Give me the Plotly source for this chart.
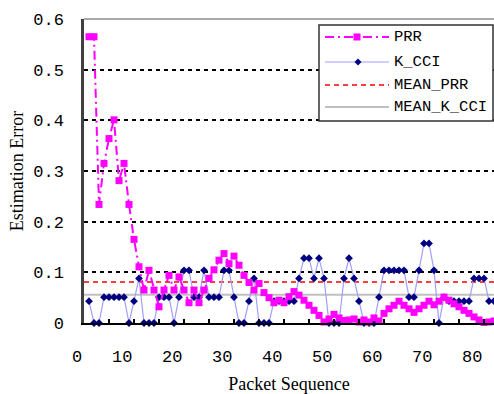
import plotly.graph_objects as go

# ---------------- data ----------------
seq = list(range(1, 83))

prr = [0.565, 0.565, 0.234, 0.315, 0.364, 0.401, 0.281, 0.315, 0.234, 0.165,
       0.111, 0.065, 0.104, 0.065, 0.032, 0.065, 0.094, 0.065, 0.091, 0.065,
       0.040, 0.065, 0.040, 0.065, 0.088, 0.105, 0.124, 0.137, 0.117, 0.132,
       0.114, 0.094, 0.080, 0.065, 0.078, 0.060, 0.050, 0.040, 0.045, 0.040,
       0.052, 0.062, 0.055, 0.045, 0.035, 0.025, 0.015, 0.002, 0.008, 0.017,
       0.010, 0.005, 0.006, 0.008, 0.002, 0.006, 0.002, 0.010, 0.004, 0.019,
       0.028, 0.035, 0.043, 0.035, 0.028, 0.021, 0.028, 0.035, 0.043, 0.036,
       0.043, 0.051, 0.045, 0.038, 0.032, 0.025, 0.019, 0.012, 0.006, 0.001,
       0.002, 0.004]

k_cci = [0.043, 0.0, 0.0, 0.051, 0.051, 0.051, 0.051, 0.051, 0.0, 0.043,
         0.088, 0.0, 0.0, 0.0, 0.051, 0.051, 0.051, 0.0, 0.051, 0.104,
         0.104, 0.051, 0.051, 0.104, 0.051, 0.051, 0.051, 0.104, 0.104, 0.051,
         0.0, 0.0, 0.043, 0.088, 0.0, 0.0, 0.0, 0.043, 0.043, 0.043,
         0.043, 0.043, 0.088, 0.128, 0.128, 0.088, 0.128, 0.088, 0.0, 0.0,
         0.0, 0.088, 0.128, 0.088, 0.043, 0.0, 0.0, 0.0, 0.051, 0.104,
         0.104, 0.104, 0.104, 0.104, 0.051, 0.051, 0.104, 0.157, 0.157, 0.104,
         0.0, 0.051, 0.043, 0.043, 0.043, 0.043, 0.043, 0.088, 0.088, 0.088,
         0.043, 0.043]

mean_prr = 0.081
mean_k_cci = 0.056

x_tick_vals = [0, 10, 20, 30, 40, 50, 60, 70, 80]
x_tick_text = ["0", "10", "20", "30", "40", "50", "60", "70", "80"]
x_minor_ticks = list(range(5, 85, 5))
y_tick_vals = [0, 0.1, 0.2, 0.3, 0.4, 0.5, 0.6]
y_tick_text = ["0", "0.1", "0.2", "0.3", "0.4", "0.5", "0.6"]

series_names = ["PRR", "K_CCI", "MEAN_PRR", "MEAN_K_CCI"]

# ---------------- layout geometry ----------------
W, H = 494, 394
L, R, T, B = 84, 0, 19, 71
PW, PH = W - L - R, H - T - B


def px(x):
    return (x - L) / PW


def py(y):
    return (H - B - y) / PH


MONO = "Liberation Mono"
SERIF = "Liberation Serif"

PRR_COLOR = "#FF00FF"
PRR_DASH = "9px,4px,2px,4px"
K_LINE = "#A0A0F8"
K_MARK = "#000080"
MEAN_PRR_COLOR = "#FF0000"
MEAN_PRR_DASH = "5px,4px"
MEAN_K_COLOR = "#C0C0C0"

fig = go.Figure()

fig.add_trace(go.Scatter(x=[0, 82], y=[mean_k_cci, mean_k_cci], mode="lines",
                         name=series_names[3], line=dict(color=MEAN_K_COLOR, width=2),
                         showlegend=False))
fig.add_trace(go.Scatter(x=[0, 82], y=[mean_prr, mean_prr], mode="lines",
                         name=series_names[2],
                         line=dict(color=MEAN_PRR_COLOR, width=1.5, dash=MEAN_PRR_DASH),
                         showlegend=False))
fig.add_trace(go.Scatter(x=seq, y=k_cci, mode="lines+markers", name=series_names[1],
                         line=dict(color=K_LINE, width=1.2),
                         marker=dict(symbol="diamond", size=6, color=K_MARK),
                         cliponaxis=False, showlegend=False))
fig.add_trace(go.Scatter(x=seq, y=prr, mode="lines+markers", name=series_names[0],
                         line=dict(color=PRR_COLOR, width=2, dash=PRR_DASH),
                         marker=dict(symbol="square", size=7, color=PRR_COLOR),
                         cliponaxis=False, showlegend=False))

shapes = []
annotations = []

# top frame line
shapes.append(dict(type="line", xref="paper", yref="paper", x0=0, x1=1, y0=1, y1=1,
                   line=dict(color="#555555", width=1.2), layer="above"))

# x tick labels (right aligned at tick positions, as in the reference)
for v, t in zip(x_tick_vals, x_tick_text):
    annotations.append(dict(x=v, xref="x", y=py(357), yref="paper", text=t,
                            showarrow=False, xanchor="right", yanchor="middle",
                            xshift=0, font=dict(family=MONO, size=17, color="black")))

# manual legend
shapes.append(dict(type="rect", xref="paper", yref="paper",
                   x0=px(319), x1=px(493), y0=py(121), y1=py(25),
                   line=dict(color="#333333", width=1.5), fillcolor="white", layer="above"))
rows = [37, 62, 85, 107]
lx0, lx1, lmid, ltext = 325, 389, 357, 392
styles = [dict(color=PRR_COLOR, width=2, dash=PRR_DASH),
          dict(color=K_LINE, width=1.2),
          dict(color=MEAN_PRR_COLOR, width=1.5, dash=MEAN_PRR_DASH),
          dict(color=MEAN_K_COLOR, width=2)]
for name, yy, st in zip(series_names, rows, styles):
    shapes.append(dict(type="line", xref="paper", yref="paper",
                       x0=px(lx0), x1=px(lx1), y0=py(yy), y1=py(yy), line=st, layer="above"))
    annotations.append(dict(x=px(ltext), xref="paper", y=py(yy), yref="paper", text=name,
                            showarrow=False, xanchor="left", yanchor="middle",
                            font=dict(family=MONO, size=15.5, color="black")))
# PRR square
s = 3.5
shapes.append(dict(type="rect", xref="paper", yref="paper",
                   x0=px(lmid - s), x1=px(lmid + s), y0=py(rows[0] + s), y1=py(rows[0] - s),
                   fillcolor=PRR_COLOR, line=dict(width=0), layer="above"))
# K_CCI diamond
d = 3.5
cx, cy = lmid + 1, rows[1]
path = (f"M {px(cx)},{py(cy - d)} L {px(cx + d)},{py(cy)} "
        f"L {px(cx)},{py(cy + d)} L {px(cx - d)},{py(cy)} Z")
shapes.append(dict(type="path", xref="paper", yref="paper", path=path,
                   fillcolor=K_MARK, line=dict(width=0), layer="above"))

fig.update_layout(
    width=W, height=H,
    margin=dict(l=L, r=R, t=T, b=B, pad=0),
    paper_bgcolor="white", plot_bgcolor="white",
    showlegend=False,
    shapes=shapes, annotations=annotations,
    xaxis=dict(range=[0, 82], showline=True, linecolor="black", linewidth=2,
               ticks="inside", tickvals=x_minor_ticks, ticklen=4, tickwidth=1.5,
               tickcolor="black", showticklabels=False, showgrid=False, zeroline=False,
               title=dict(text="Packet Sequence", standoff=55,
                          font=dict(family=SERIF, size=18, color="black")),
               automargin=False),
    yaxis=dict(range=[0, 0.6], tickvals=y_tick_vals, ticktext=y_tick_text,
               showgrid=True, gridcolor="black", gridwidth=1.5, griddash="4px,4px",
               showline=True, linecolor="#404040", linewidth=2.5, ticks="",
               ticklabelstandoff=14, zeroline=False,
               tickfont=dict(family=MONO, size=17, color="black"),
               title=dict(text="Estimation Error", standoff=5,
                          font=dict(family=SERIF, size=18, color="black")),
               automargin=False),
)

fig.write_html("out.html")
